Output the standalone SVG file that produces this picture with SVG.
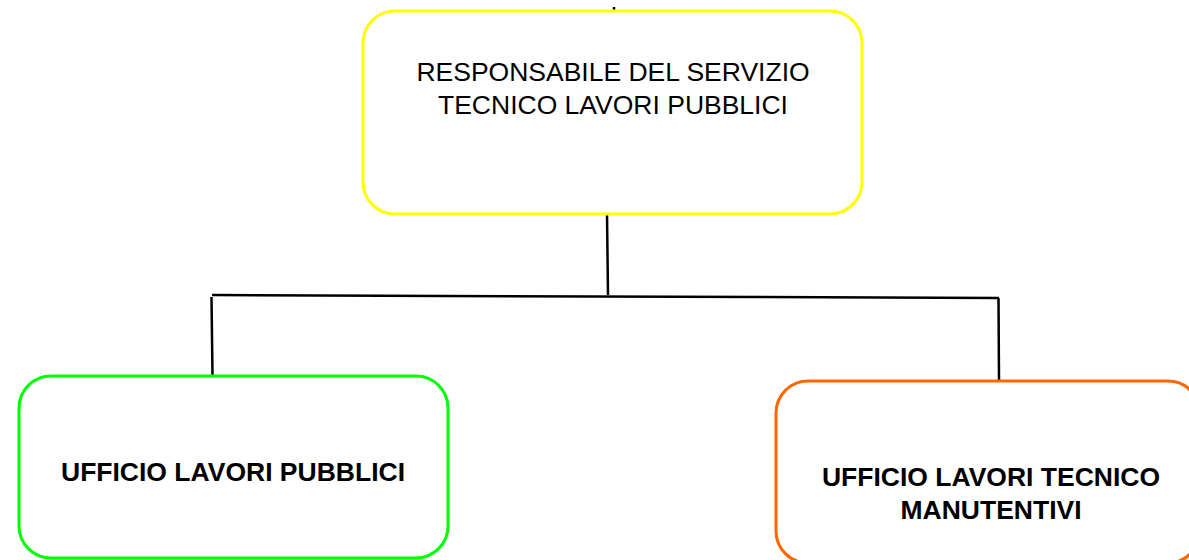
<svg xmlns="http://www.w3.org/2000/svg" width="1189" height="560" viewBox="0 0 1189 560">
<style>
.box{fill:#ffffff;stroke-width:3}
.t{font-family:"Liberation Sans",Arial,sans-serif;font-size:26.5px;fill:#000;text-anchor:middle}
.b{font-weight:bold}
.c{stroke:#000;stroke-width:2.5;fill:none}
</style>
<rect width="1189" height="560" fill="#ffffff"/>
<g id="connectors">
<line class="c" x1="614" y1="7" x2="614" y2="12" stroke-width="1.5"/>
<line class="c" x1="607" y1="214" x2="608" y2="295"/>
<line class="c" x1="212" y1="295" x2="999" y2="298"/>
<line class="c" x1="211.5" y1="297" x2="212.5" y2="376"/>
<line class="c" x1="998.5" y1="298" x2="999" y2="381"/>
</g>
<g id="node-responsabile">
<rect class="box" x="363" y="11" width="499" height="203" rx="32" ry="32" stroke="#ffff00"/>
<text class="t" x="613" y="81">RESPONSABILE DEL SERVIZIO</text>
<text class="t" x="613" y="114">TECNICO LAVORI PUBBLICI</text>
</g>
<g id="node-ufficio-lavori-pubblici">
<rect class="box" x="19" y="376" width="429" height="182" rx="32" ry="32" stroke="#00ff00"/>
<text class="t b" x="233" y="481">UFFICIO LAVORI PUBBLICI</text>
</g>
<g id="node-ufficio-manutentivi">
<rect class="box" x="776" y="381" width="424" height="182" rx="32" ry="32" stroke="#ff6600"/>
<text class="t b" x="991" y="486">UFFICIO LAVORI TECNICO</text>
<text class="t b" x="991" y="519">MANUTENTIVI</text>
</g>
</svg>
